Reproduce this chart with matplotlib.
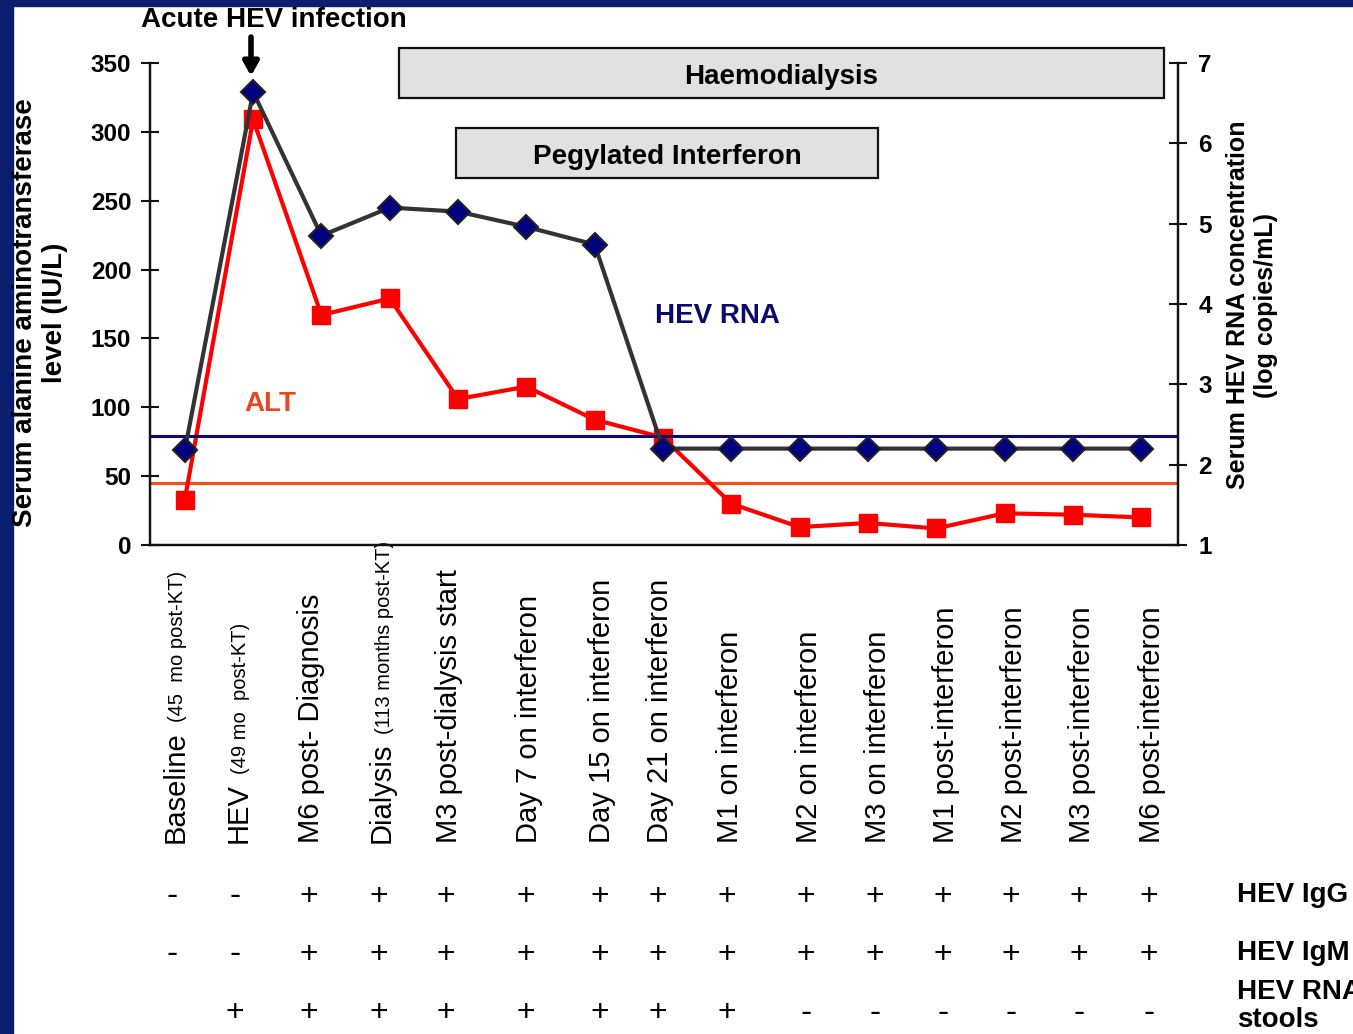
import matplotlib
matplotlib.use("Agg")
import matplotlib.pyplot as plt
from matplotlib.patches import Rectangle
from matplotlib.transforms import blended_transform_factory, ScaledTranslation

plt.rcParams['font.family'] = ['Liberation Sans', 'DejaVu Sans']

# ---- data ----
categories_main = ["Baseline", "HEV", "M6 post- Diagnosis", "Dialysis",
                   "M3 post-dialysis start", "Day 7 on interferon",
                   "Day 15 on interferon", "Day 21 on interferon",
                   "M1 on interferon", "M2 on interferon", "M3 on interferon",
                   "M1 post-interferon", "M2 post-interferon",
                   "M3 post-interferon", "M6 post-interferon"]
categories_note = ["(45  mo post-KT)", "(49 mo  post-KT)", "",
                   "(113 months post-KT)", "", "", "", "", "", "", "", "",
                   "", "", ""]
alt_values = [33, 309, 167, 179, 106, 115, 91, 78, 30, 13, 16, 12, 23, 22, 20]
rna_values = [2.18, 6.64, 4.85, 5.20, 5.15, 4.96, 4.74, 2.20, 2.20, 2.20,
              2.20, 2.20, 2.20, 2.20, 2.20]
alt_limit = 45
rna_limit = 2.36
hev_igg = ["-", "-", "+", "+", "+", "+", "+", "+", "+", "+", "+", "+", "+", "+", "+"]
hev_igm = ["-", "-", "+", "+", "+", "+", "+", "+", "+", "+", "+", "+", "+", "+", "+"]
hev_rna_stools = ["", "+", "+", "+", "+", "+", "+", "+", "+", "-", "-", "-", "-", "-", "-"]
row_names = ["HEV IgG", "HEV IgM", "HEV RNA\nstools"]
left_ticks = [0, 50, 100, 150, 200, 250, 300, 350]
right_ticks = [1, 2, 3, 4, 5, 6, 7]
# treatment periods (category index span)
haemo_span = (3.13, 14.33)
interferon_span = (3.97, 10.15)

# ---- layout ----
W, H = 1353, 1034
label_shift = [-0.02, -0.10, -0.03, 0.0, -0.02, 0.16, 0.23, 0.08, 0.10,
               0.25, 0.26, 0.26, 0.26, 0.25, 0.28]

fig = plt.figure(figsize=(W / 100, H / 100), dpi=100)
fig.patch.set_facecolor('white')
navy_frame = '#0c1f6e'
fig.patches.append(Rectangle((0, 0), 13 / W, 1, transform=fig.transFigure,
                             color=navy_frame, zorder=0))
fig.patches.append(Rectangle((0, 1 - 6 / H), 1, 6 / H, transform=fig.transFigure,
                             color=navy_frame, zorder=0))

def fx(px):
    return px / W

def fy(py):
    return 1 - py / H

ax = fig.add_axes([fx(150), fy(545), fx(1178) - fx(150), fy(63) - fy(545)])
ax2 = ax.twinx()
n = len(alt_values)
xs = list(range(n))

ax.set_xlim(-0.51, 14.54)
ax.set_ylim(0, 350)
ax2.set_ylim(1, 7)

# reference limits
ax.axhline(alt_limit, color='#ff4a12', lw=2.2, zorder=1)
ax2.axhline(rna_limit, color='#0a0a7c', lw=2.2, zorder=1)

# ALT series
ax.plot(xs, alt_values, color='#ff0000', lw=3, marker='s', ms=13,
        mfc='#ff0000', mec='#ff0000', zorder=3)
# HEV RNA series
ax2.plot(xs, rna_values, color='#333333', lw=3, marker='D', ms=12,
         mfc='#000080', mec='#222222', mew=1.5, zorder=3)

for a in (ax, ax2):
    a.spines['top'].set_visible(False)
    for s in a.spines.values():
        s.set_linewidth(1.6)
        s.set_color('#111111')
ax.set_xticks([])
ax.set_yticks(left_ticks)
ax2.set_yticks(right_ticks)
ax.tick_params(axis='y', direction='inout', length=13, width=1.5, pad=7,
               labelsize=17.5, color='#111111')
ax2.tick_params(axis='y', direction='inout', length=13, width=1.5, pad=8,
                labelsize=17.5, color='#111111')
for lab in ax.get_yticklabels() + ax2.get_yticklabels():
    lab.set_fontweight('bold')

# treatment boxes
trans_box = blended_transform_factory(ax.transData, fig.transFigure)
ax.add_patch(Rectangle((haemo_span[0], fy(98)), haemo_span[1] - haemo_span[0],
                       fy(48) - fy(98), transform=trans_box, facecolor='#e1e1e1',
                       edgecolor='#111111', lw=1.6, clip_on=False, zorder=2))
ax.text(sum(haemo_span) / 2, fy(74), "Haemodialysis", transform=trans_box,
        ha='center', va='center_baseline', fontsize=20, fontweight='bold', zorder=4)
ax.add_patch(Rectangle((interferon_span[0], fy(178)),
                       interferon_span[1] - interferon_span[0],
                       fy(128) - fy(178), transform=trans_box, facecolor='#e1e1e1',
                       edgecolor='#111111', lw=1.6, clip_on=False, zorder=2))
ax.text(sum(interferon_span) / 2, fy(154), "Pegylated Interferon",
        transform=trans_box, ha='center', va='center_baseline', fontsize=20,
        fontweight='bold', zorder=4)

# series names
fig.text(fx(717), fy(313), "HEV RNA", color='#0a0a6e', fontsize=20,
         fontweight='bold', ha='center', va='center_baseline')
fig.text(fx(270), fy(401), "ALT", color='#e8461e', fontsize=20,
         fontweight='bold', ha='center', va='center_baseline')

# acute infection marker
fig.text(fx(274), fy(27), "Acute HEV infection", fontsize=20, fontweight='bold',
         ha='center', va='baseline')
ax.annotate("", xy=(fx(251), fy(76)), xytext=(fx(251), fy(37)),
            xycoords='figure fraction', textcoords='figure fraction',
            arrowprops=dict(arrowstyle='-|>,head_length=0.8,head_width=0.45',
                            lw=4, color='black', shrinkA=0, shrinkB=0))

# axis titles
fig.text(fx(40), fy(313), "Serum alanine aminotransferase\nlevel (IU/L)",
         rotation=90, ha='center', va='center', fontsize=20,
         fontweight='bold', linespacing=1.15)
fig.text(fx(1252), fy(305), "Serum HEV RNA concentration\n(log copies/mL)",
         rotation=90, ha='center', va='center', fontsize=18,
         fontweight='bold', linespacing=1.2)

# category labels (rotated, reading upward)
lab_trans = blended_transform_factory(ax.transData, fig.transFigure)
renderer = fig.canvas.get_renderer()
for i in range(n):
    xi = i + label_shift[i]
    t = ax.text(xi, fy(843), categories_main[i], transform=lab_trans,
                rotation=90, rotation_mode='anchor', ha='left', va='baseline',
                fontsize=21, clip_on=False)
    if categories_note[i]:
        ext = t.get_window_extent(renderer=renderer)
        ytop = (ext.y1 + 9) / (H)
        ax.text(xi, ytop, categories_note[i], transform=lab_trans,
                rotation=90, rotation_mode='anchor', ha='left', va='baseline',
                fontsize=14.5, clip_on=False)

# serology table
sign_trans = lab_trans + ScaledTranslation(-11 / 100, 0, fig.dpi_scale_trans)
row_y = [893, 951, 1010]
for row, ypx in zip([hev_igg, hev_igm, hev_rna_stools], row_y):
    for i, s in enumerate(row):
        if s:
            ax.text(i + label_shift[i], fy(ypx), s, transform=sign_trans,
                    ha='center', va='center_baseline',
                    fontsize=23 if s == '+' else 24, clip_on=False)
fig.text(fx(1237), fy(892), row_names[0], fontsize=20, fontweight='bold',
         ha='left', va='center_baseline')
fig.text(fx(1237), fy(950), row_names[1], fontsize=20, fontweight='bold',
         ha='left', va='center_baseline')
fig.text(fx(1237), fy(1006), row_names[2], fontsize=20, fontweight='bold',
         ha='left', va='center', linespacing=1.1)

fig.savefig("out.png", dpi=100, facecolor='white')
